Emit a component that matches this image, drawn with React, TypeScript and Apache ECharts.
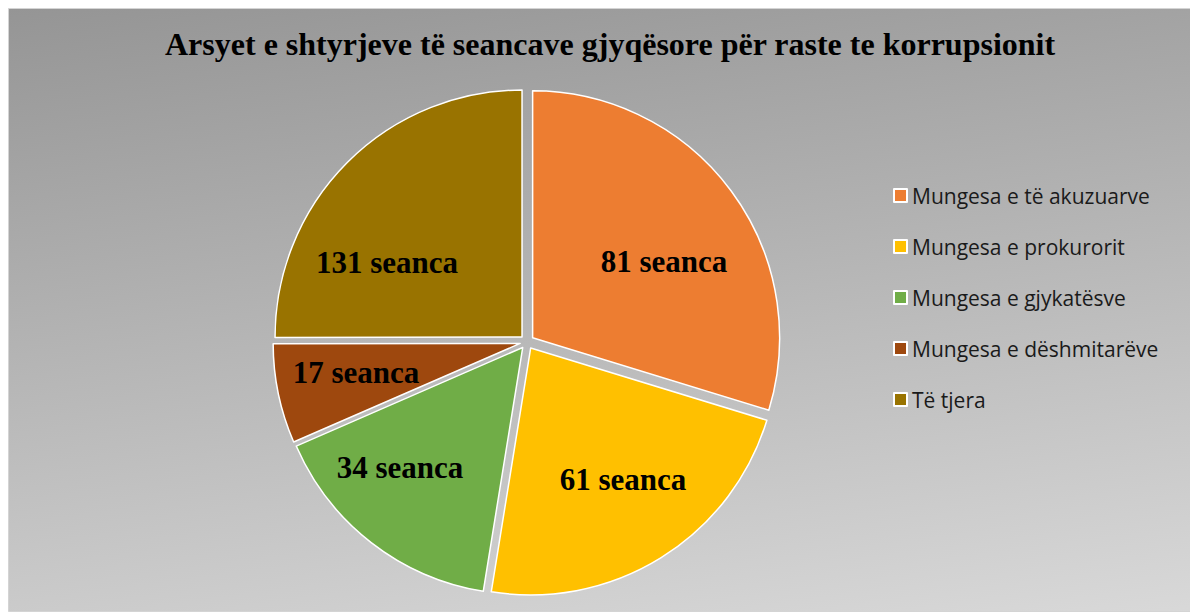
import React, { useEffect, useRef } from "react";
import * as echarts from "echarts";

const categories = [
  "Mungesa e të akuzuarve",
  "Mungesa e prokurorit",
  "Mungesa e gjykatësve",
  "Mungesa e dëshmitarëve",
  "Të tjera",
];
// Number of sessions shown in the labels
const sessions = [81, 61, 34, 17, 131];
// Slice sizes as drawn in the picture (percent of the circle)
const sliceShares = [29.7, 22.8, 15.9, 6.5, 25.0];
const colors = ["#ED7D31", "#FFC000", "#70AD47", "#9E480E", "#997300"];
const chartTitle =
  "Arsyet e shtyrjeve të seancave gjyqësore për raste te korrupsionit";

// Label placement relative to the pie centre (px)
const labelOffsets = [
  [137, -81],
  [96, 137],
  [-127, 125.5],
  [-171, 30],
  [-140, -79.5],
];

const W = 1190;
const H = 604;
const CX = 519;
const CY = 334;
const R = 247;

export default function App() {
  const ref = useRef<HTMLDivElement>(null);
  useEffect(() => {
    document.documentElement.style.overflow = "hidden";
    document.body.style.overflow = "hidden";
    const chart = echarts.init(ref.current!, undefined, { renderer: "svg" });
    chart.setOption({
      animation: false,
      graphic: [
        {
          type: "rect",
          z: -10,
          silent: true,
          shape: { x: 0.5, y: 0.5, width: W - 1, height: H - 1 },
          style: {
            fill: new echarts.graphic.LinearGradient(0, 0, 0.41, 1.59, [
              { offset: 0, color: "#959595" },
              { offset: 1, color: "#f0f0f0" },
            ]),
            stroke: "#d4d4d4",
            lineWidth: 1,
          },
        },
      ],
      title: {
        text: chartTitle,
        left: 157,
        top: 20,
        padding: 0,
        textStyle: {
          fontFamily: "Liberation Serif",
          fontWeight: "bold",
          fontSize: 32,
          color: "#000",
        },
      },
      legend: {
        orient: "vertical",
        left: 880,
        top: 172,
        itemWidth: 13,
        itemHeight: 13,
        itemGap: 30,
        icon: "rect",
        data: categories,
        selectedMode: false,
        textStyle: {
          fontFamily: "Open Sans",
          fontSize: 21,
          color: "#1a1a1a",
        },
      },
      series: [
        {
          type: "pie",
          name: "slices",
          center: [CX, CY],
          radius: R,
          startAngle: 90,
          clockwise: true,
          selectedMode: "multiple",
          selectedOffset: 7,
          emphasis: { disabled: true },
          itemStyle: { borderColor: "#ffffff", borderWidth: 1.5 },
          label: { show: false },
          labelLine: { show: false },
          data: categories.map((name, i) => ({
            name,
            value: sliceShares[i],
            selected: true,
            itemStyle: { color: colors[i] },
          })),
        },
        {
          type: "pie",
          name: "labels",
          center: [CX, CY],
          radius: R,
          startAngle: 90,
          clockwise: true,
          silent: true,
          z: 5,
          emphasis: { disabled: true },
          itemStyle: { color: "rgba(0,0,0,0)", borderWidth: 0 },
          label: {
            show: true,
            position: "inside",
            fontFamily: "Liberation Serif",
            fontWeight: "bold",
            fontSize: 31,
            color: "#000",
            formatter: (p: any) => `${sessions[p.dataIndex]} seanca`,
          },
          labelLine: { show: false },
          labelLayout: (p: any) => ({
            x: CX + labelOffsets[p.dataIndex][0],
            y: CY + labelOffsets[p.dataIndex][1],
            align: "center",
            verticalAlign: "middle",
          }),
          data: categories.map((name, i) => ({
            name,
            value: sliceShares[i],
          })),
        },
      ],
    });
    return () => chart.dispose();
  }, []);
  return <div ref={ref} style={{ width: W, height: H }} />;
}
